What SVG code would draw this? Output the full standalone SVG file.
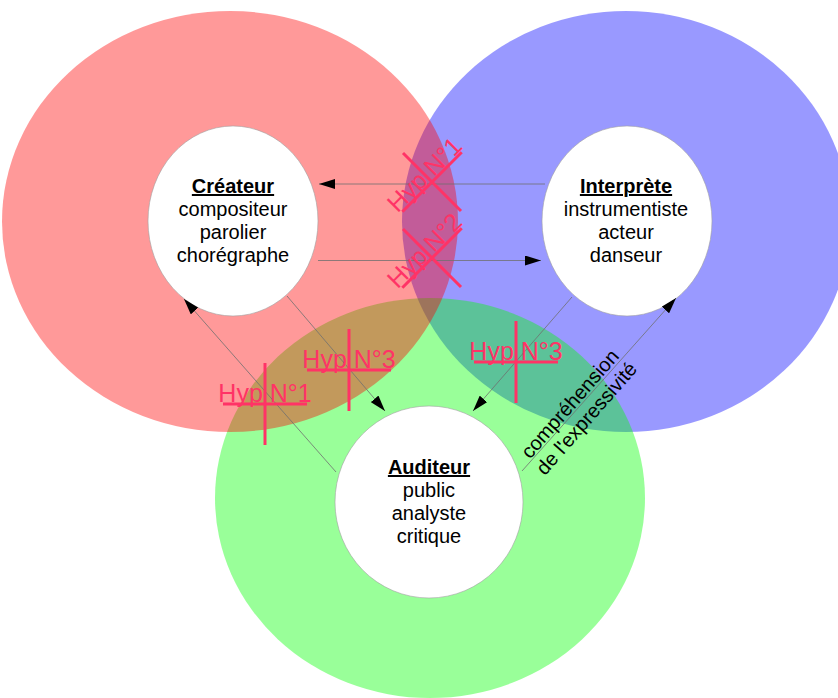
<svg xmlns="http://www.w3.org/2000/svg" width="838" height="698" viewBox="0 0 838 698">
  <defs>
    <style>
      .ring { stroke: none; fill-opacity: 0.4; }
      .hole { fill: #ffffff; stroke: #a0a0a0; stroke-width: 0.6; }
      .title { font-family: "Liberation Sans", Arial, sans-serif; font-size: 20px; font-weight: bold; text-decoration: underline; fill: #000; }
      .lbl { font-family: "Liberation Sans", Arial, sans-serif; font-size: 20px; fill: #000; }
      .conn { stroke: #707070; stroke-width: 0.8; fill: none; marker-end: url(#arr); }
      .hyp text { font-family: "Liberation Sans", Arial, sans-serif; font-size: 25px; fill: #ff3366; }
      .hyp line { stroke: #ff3366; stroke-width: 3; }
    </style>
    <marker id="arr" viewBox="0 0 16 10" refX="16" refY="5" markerWidth="16" markerHeight="10" markerUnits="userSpaceOnUse" orient="auto">
      <path d="M0,0 L16,5 L0,10 z" fill="#000"/>
    </marker>
  </defs>

  <g id="circles">
    <ellipse class="ring" cx="626" cy="221.5" rx="224" ry="210.5" fill="#0000ff"/>
    <ellipse class="ring" cx="430" cy="498" rx="215" ry="200" fill="#00ff00"/>
    <ellipse class="ring" cx="230" cy="221.5" rx="228" ry="210.5" fill="#ff0000"/>
  </g>

  <g id="node-createur">
    <ellipse class="hole" cx="233" cy="221" rx="85" ry="95"/>
    <text class="title" x="233" y="193" text-anchor="middle">Créateur</text>
    <text class="lbl" x="233" y="216" text-anchor="middle">compositeur</text>
    <text class="lbl" x="233" y="239" text-anchor="middle">parolier</text>
    <text class="lbl" x="233" y="262" text-anchor="middle">chorégraphe</text>
  </g>

  <g id="node-interprete">
    <ellipse class="hole" cx="627" cy="221" rx="85" ry="95"/>
    <text class="title" x="626" y="193" text-anchor="middle">Interprète</text>
    <text class="lbl" x="626" y="216" text-anchor="middle">instrumentiste</text>
    <text class="lbl" x="626" y="239" text-anchor="middle">acteur</text>
    <text class="lbl" x="626" y="262" text-anchor="middle">danseur</text>
  </g>

  <g id="node-auditeur">
    <ellipse class="hole" cx="429" cy="502" rx="94" ry="96"/>
    <text class="title" x="429" y="474" text-anchor="middle">Auditeur</text>
    <text class="lbl" x="429" y="497" text-anchor="middle">public</text>
    <text class="lbl" x="429" y="520" text-anchor="middle">analyste</text>
    <text class="lbl" x="429" y="543" text-anchor="middle">critique</text>
  </g>

  <g id="connectors">
    <line class="conn" x1="545" y1="184" x2="319" y2="184"/>
    <line class="conn" x1="318" y1="260.5" x2="541" y2="260.5"/>
    <line class="conn" x1="336" y1="472" x2="184" y2="299"/>
    <line class="conn" x1="287" y1="296" x2="385" y2="411"/>
    <line class="conn" x1="572" y1="297" x2="473" y2="411"/>
    <line class="conn" x1="522" y1="471" x2="676" y2="298"/>
  </g>

  <g id="hyp1-crossed" class="hyp" transform="translate(432,182) rotate(-45)">
    <text x="0" y="-2" text-anchor="middle">Hyp N°1</text>
    <line x1="-42" y1="0" x2="42" y2="0"/>
    <line x1="0" y1="-41" x2="0" y2="41"/>
  </g>
  <g id="hyp2-crossed" class="hyp" transform="translate(432,258) rotate(-45)">
    <text x="0" y="-2" text-anchor="middle">Hyp N°2</text>
    <line x1="-42" y1="0" x2="42" y2="0"/>
    <line x1="0" y1="-41" x2="0" y2="41"/>
  </g>
  <g id="hyp1" class="hyp" transform="translate(265,404)">
    <text x="0" y="-2" text-anchor="middle">Hyp N°1</text>
    <line x1="-42" y1="0" x2="42" y2="0"/>
    <line x1="0" y1="-41" x2="0" y2="41"/>
  </g>
  <g id="hyp3-left" class="hyp" transform="translate(349,370)">
    <text x="0" y="-2" text-anchor="middle">Hyp N°3</text>
    <line x1="-42" y1="0" x2="42" y2="0"/>
    <line x1="0" y1="-41" x2="0" y2="41"/>
  </g>
  <g id="hyp3-right" class="hyp" transform="translate(516,362)">
    <text x="0" y="-2" text-anchor="middle">Hyp N°3</text>
    <line x1="-42" y1="0" x2="42" y2="0"/>
    <line x1="0" y1="-41" x2="0" y2="41"/>
  </g>

  <g id="label-comprehension" transform="translate(578,411) rotate(-48.8)">
    <text class="lbl" x="0" y="-4" text-anchor="middle">compréhension</text>
    <text class="lbl" x="0" y="18" text-anchor="middle">de l'expressivité</text>
  </g>
</svg>
